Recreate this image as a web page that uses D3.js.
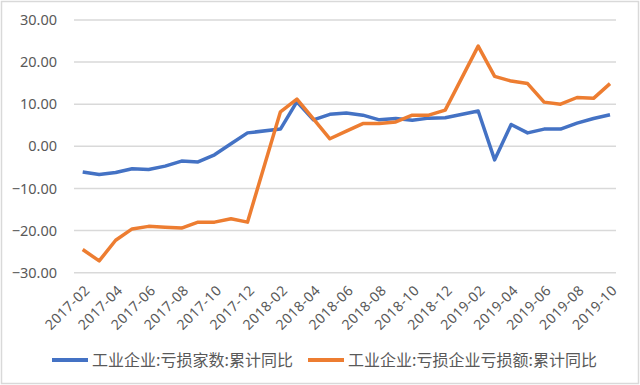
<!DOCTYPE html>
<html>
<head>
	<meta charset="utf-8">
	<script src="https://cdn.jsdelivr.net/npm/d3@7"></script>
	<style>
		html, body {
			padding: 0;
			margin: 0;
			background: #fff;
		}
		text {
			font-family: "Noto Sans CJK SC", "Noto Sans", sans-serif;
			fill: #595959;
		}
	</style>
</head>
<body>
	<script>
		var width = 640,
			height = 385;

		/* data: monthly cumulative yoy, January has no release (null) */
		var months = [
			"2017-02", "2017-03", "2017-04", "2017-05", "2017-06", "2017-07", "2017-08",
			"2017-09", "2017-10", "2017-11", "2017-12",
			"2018-01", "2018-02", "2018-03", "2018-04", "2018-05", "2018-06", "2018-07",
			"2018-08", "2018-09", "2018-10", "2018-11", "2018-12",
			"2019-01", "2019-02", "2019-03", "2019-04", "2019-05", "2019-06", "2019-07",
			"2019-08", "2019-09", "2019-10"
		];
		var lossCount = [
			-6.1, -6.7, -6.2, -5.3, -5.5, -4.7, -3.5, -3.7, -2.0, 0.6, 3.2,
			null, 4.1, 10.6, 6.3, 7.6, 7.9, 7.4, 6.3, 6.6, 6.2, 6.7, 6.8,
			null, 8.4, -3.2, 5.2, 3.2, 4.1, 4.1, 5.5, 6.6, 7.5
		];
		var lossAmount = [
			-24.5, -27.2, -22.3, -19.6, -19.0, -19.2, -19.4, -18.0, -18.0, -17.2, -18.0,
			null, 8.2, 11.2, 6.5, 1.8, 3.6, 5.4, 5.4, 5.8, 7.4, 7.4, 8.6,
			null, 23.8, 16.6, 15.5, 14.9, 10.5, 10.0, 11.6, 11.4, 14.9
		];
		var seriesNames = ["工业企业:亏损家数:累计同比", "工业企业:亏损企业亏损额:累计同比"];
		var colors = ["#4472C4", "#ED7D31"];
		var yTicks = [-30, -20, -10, 0, 10, 20, 30];
		var xLabels = months.filter(function(d, i) { return i % 2 === 0; });

		var svg = d3.select("body").append("svg")
			.attr("width", width)
			.attr("height", height);

		// outer frame
		svg.append("rect")
			.attr("x", 1.5).attr("y", 1.5)
			.attr("width", width - 3).attr("height", height - 3)
			.attr("fill", "#fff")
			.attr("stroke", "#d9d9d9")
			.attr("stroke-width", 1.5);

		var plotLeft = 74, plotRight = 616;

		var x = d3.scalePoint()
			.domain(months)
			.range([82.7, 610]);

		var y = d3.scaleLinear()
			.domain([-30, 30])
			.range([272.7, 20]);

		// gridlines
		svg.append("g")
			.selectAll("line")
			.data(yTicks)
			.enter().append("line")
			.attr("x1", plotLeft)
			.attr("x2", plotRight)
			.attr("y1", function(d) { return y(d); })
			.attr("y2", function(d) { return y(d); })
			.attr("stroke", "#d9d9d9")
			.attr("stroke-width", 1.5);

		// y axis labels
		var yAxis = d3.axisLeft(y)
			.tickValues(yTicks)
			.tickFormat(d3.format(".2f"))
			.tickSize(0)
			.tickPadding(0);
		var gy = svg.append("g")
			.attr("transform", "translate(57,0)")
			.call(yAxis);
		gy.select(".domain").remove();
		gy.selectAll("text")
			.style("font-size", "14.5px")
			.style("font-family", "'Noto Sans', sans-serif")
			.attr("fill", "#595959");

		// x axis labels, rotated
		var xAxis = d3.axisBottom(x)
			.tickValues(xLabels)
			.tickSize(0)
			.tickPadding(0);
		var gx = svg.append("g")
			.attr("transform", "translate(0,272.7)")
			.call(xAxis);
		gx.select(".domain").remove();
		gx.selectAll("text")
			.style("font-size", "14px")
			.style("letter-spacing", "0.5px")
			.style("font-family", "'Noto Sans', sans-serif")
			.attr("fill", "#595959")
			.attr("text-anchor", "end")
			.attr("dy", "0.35em")
			.attr("y", 0)
			.attr("transform", "translate(4,15) rotate(-45)");

		// lines
		var line = d3.line()
			.x(function(d) { return x(d.m); })
			.y(function(d) { return y(d.v); });

		[lossCount, lossAmount].forEach(function(vals, k) {
			var pts = months.map(function(m, i) { return { m: m, v: vals[i] }; })
				.filter(function(d) { return d.v !== null; });
			svg.append("path")
				.datum(pts)
				.attr("fill", "none")
				.attr("stroke", colors[k])
				.attr("stroke-width", 3.5)
				.attr("stroke-linejoin", "round")
				.attr("d", line);
		});

		// legend
		var legendX = [52, 308];
		var legend = svg.append("g")
			.selectAll("g")
			.data(seriesNames)
			.enter().append("g")
			.attr("transform", function(d, i) { return "translate(" + legendX[i] + ",360)"; });
		legend.append("line")
			.attr("x1", 0).attr("x2", 36)
			.attr("stroke", function(d, i) { return colors[i]; })
			.attr("stroke-width", 4);
		legend.append("text")
			.attr("x", 40)
			.attr("dy", "0.36em")
			.style("font-size", "16px")
			.text(function(d) { return d; });
	</script>
</body>
</html>
